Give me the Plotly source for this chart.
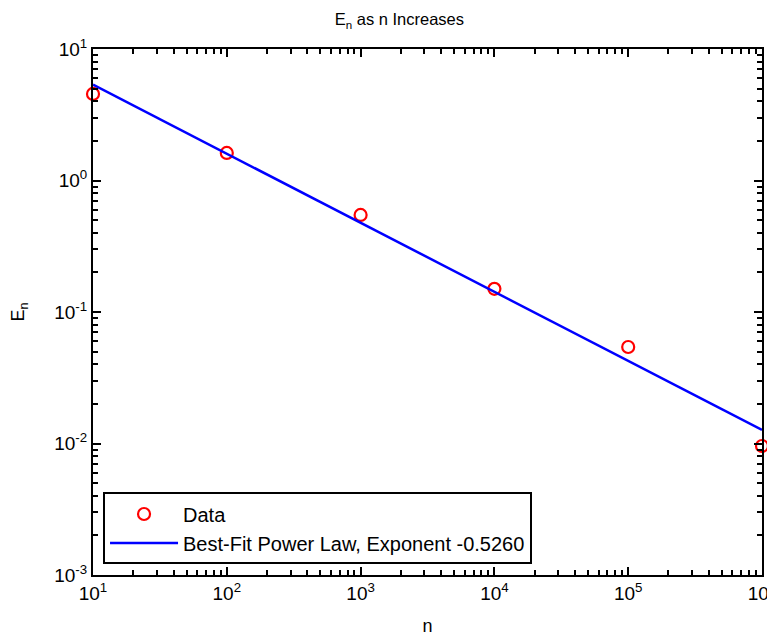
import numpy as np
import plotly.graph_objects as go

n_values = [1e1, 1e2, 1e3, 1e4, 1e5, 1e6]
en_values = [4.55, 1.62, 0.547, 0.150, 0.0542, 0.00957]
fit_exponent_label = "-0.5260"
x_tickvals = [1e1, 1e2, 1e3, 1e4, 1e5, 1e6]
x_ticktext = ["10<sup>1</sup>", "10<sup>2</sup>", "10<sup>3</sup>", "10<sup>4</sup>", "10<sup>5</sup>", "10<sup>6</sup>"]
y_tickvals = [1e-3, 1e-2, 1e-1, 1e0, 1e1]
y_ticktext = ["10<sup>-3</sup>", "10<sup>-2</sup>", "10<sup>-1</sup>", "10<sup>0</sup>", "10<sup>1</sup>"]

# power-law fit in log space
slope, intercept = np.polyfit(np.log10(n_values), np.log10(en_values), 1)
fit_x = np.logspace(1, 6, 50)
fit_y = 10 ** (intercept + slope * np.log10(fit_x))

x_minor = [m * 10.0 ** d for d in range(1, 6) for m in range(2, 10)]
y_minor = [m * 10.0 ** d for d in range(-3, 1) for m in range(2, 10)]

font = "Liberation Sans, Arial, sans-serif"
fig = go.Figure()
fig.add_trace(go.Scatter(
    x=n_values, y=en_values, mode="markers", name="Data",
    marker=dict(symbol="circle-open", size=12, color="#ff0000", line=dict(width=2.2, color="#ff0000")),
    cliponaxis=False,
))
fig.add_trace(go.Scatter(
    x=fit_x, y=fit_y, mode="lines",
    name="Best-Fit Power Law, Exponent " + fit_exponent_label,
    line=dict(color="#0000ff", width=2.5),
))
# invisible trace carrying the major-tick overlay axes
fig.add_trace(go.Scatter(x=[n_values[0]], y=[en_values[0]], xaxis="x2", yaxis="y2",
                         mode="markers", marker=dict(opacity=0), showlegend=False, hoverinfo="skip"))

axis_common = dict(
    type="log", showgrid=False, zeroline=False, automargin=False,
    showline=True, linecolor="black", linewidth=2, mirror="ticks",
    ticks="inside", ticklen=5, tickwidth=2, tickcolor="black",
    tickfont=dict(family=font, size=19, color="black"),
)
fig.update_xaxes(range=[1, 6], tickmode="array",
                 tickvals=x_tickvals + x_minor, ticktext=x_ticktext + [""] * len(x_minor),
                 title=dict(text="n", font=dict(family=font, size=18, color="black"), standoff=17),
                 **axis_common)
fig.update_yaxes(range=[-3, 1], tickmode="array",
                 tickvals=y_tickvals + y_minor, ticktext=y_ticktext + [""] * len(y_minor),
                 title=dict(text="E<sub>n</sub>", font=dict(family=font, size=18, color="black"), standoff=27),
                 **axis_common)

major_common = dict(type="log", showgrid=False, zeroline=False, automargin=False,
                    showline=True, linecolor="black", linewidth=2, mirror="ticks",
                    ticks="inside", ticklen=8, tickwidth=2, tickcolor="black",
                    showticklabels=False, tickmode="array")

fig.update_layout(
    width=775, height=636,
    margin=dict(l=85, r=21, t=41, b=69),
    paper_bgcolor="white", plot_bgcolor="white",
    xaxis2=dict(overlaying="x", range=[1, 6], tickvals=x_tickvals, anchor="y2", **major_common),
    yaxis2=dict(overlaying="y", range=[-3, 1], tickvals=y_tickvals, anchor="x2", **major_common),
    title=dict(text="E<sub>n</sub> as n Increases", x=0.505, xanchor="center", y=0.991, yanchor="top",
               font=dict(family=font, size=16.5, color="black")),
    legend=dict(x=0.015, y=0.02, xanchor="left", yanchor="bottom",
                bgcolor="white", bordercolor="black", borderwidth=2,
                font=dict(family=font, size=20, color="black"),
                itemwidth=68, tracegroupgap=0),
    showlegend=True,
)

fig.write_html("out.html")
